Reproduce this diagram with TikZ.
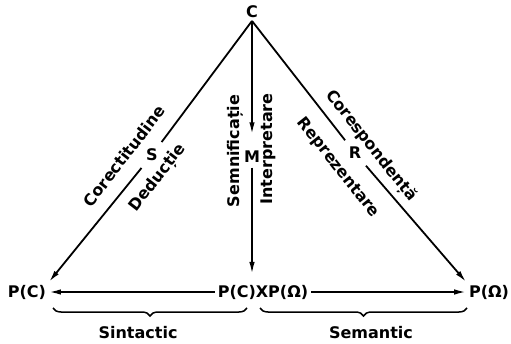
\documentclass[tikz,border=0pt]{standalone}
\usepackage{fontspec}
\setmainfont{DejaVu Sans}
\usetikzlibrary{arrows.meta, decorations.pathreplacing}
\tikzset{
  every picture/.style={font=\bfseries\fontsize{16}{18}\selectfont, line width=1.8pt},
  arrow/.style={-{Latex[length=12pt, width=5.5pt]}},
  brace/.style={decorate, decoration={brace, mirror, amplitude=8pt}, line width=1.5pt},
}
\begin{document}
\begin{tikzpicture}[x=1pt, y=1pt, v/.style={inner sep=2pt}, k/.style={inner sep=6pt}]
  \useasboundingbox (0,0) rectangle (511,343);
  \node[v] (c) at (252,331) {C};
  \node[v] (pl) at (27,51) {P(C)}; \node[v] (pm) at (263,51) {P(C)XP(Ω)}; \node[v] (pr) at (489,51) {P(Ω)};
  \node[k] (s) at (152,188) {S}; \node[k] (r) at (355,190) {R}; \node[v, inner sep=4pt] (m) at (252,186) {M};
  \draw (c.south) -- (s); \draw[arrow] (s) -- (pl.north east);
  \draw (c.south) -- (r); \draw[arrow] (r) -- (pr.north west);
  \draw[arrow, shorten >=12pt] (c.south) -- (m);
  \draw[arrow, shorten >=8pt] (m) -- (m |- pm.north);
  \draw[arrow] (pm.west) -- (pl.east); \draw[arrow] (pm.east) -- (pr.west);
  \node[rotate=52.5] (cor) at (124,187) {Corectitudine}; \node[rotate=52.5] (ded) at (158,165) {Deduc^^^^021bie};
  \node[rotate=-51.6] (csp) at (371,197) {Coresponden^^^^021b^^^^0103}; \node[rotate=-51.6] (rep) at (338,175) {Reprezentare};
  \node[rotate=90] (smn) at (235,192) {Semnifica^^^^021bie}; \node[rotate=90] (itp) at (268,194) {Interpretare};
  \coordinate (b1) at (53,35); \coordinate (b2) at (247,35); \coordinate (b3) at (260,35); \coordinate (b4) at (467,35);
  \draw[brace] (b1) -- (b2); \draw[brace] (b3) -- (b4);
  \node (sin) at (138,10) {Sintactic}; \node (smt) at (371,10) {Semantic};
\end{tikzpicture}
\end{document}
